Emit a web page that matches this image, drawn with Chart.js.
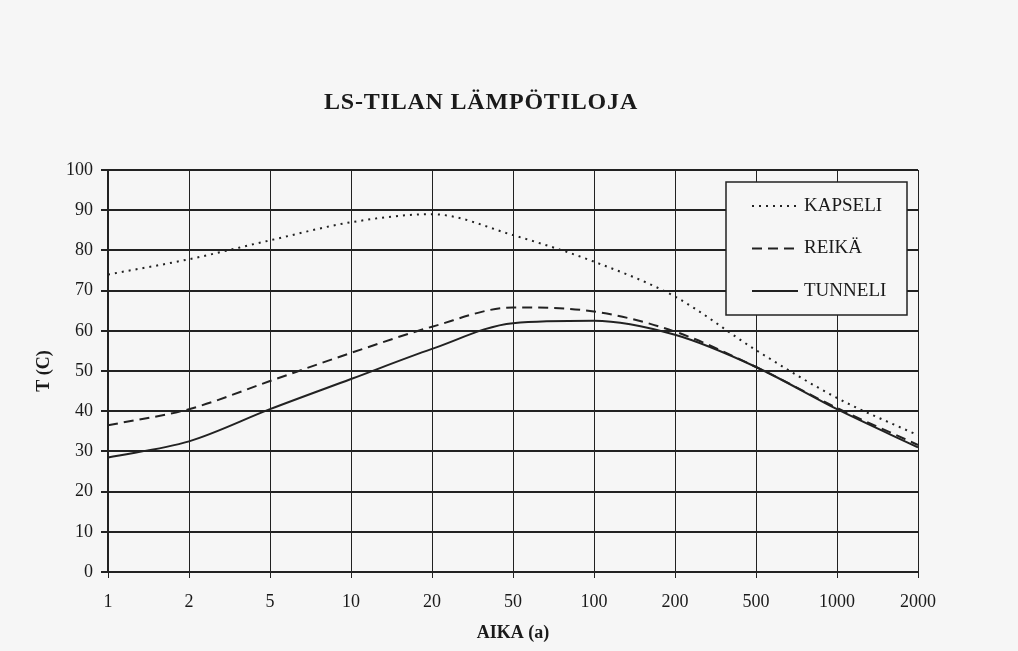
<!DOCTYPE html>
<html>
<head>
<meta charset="utf-8">
<script src="https://cdn.jsdelivr.net/npm/chart.js@4"></script>
<style>
  html, body { margin: 0; padding: 0; background: #f6f6f6; }
  #wrap { width: 1018px; height: 651px; }
</style>
</head>
<body>
<div id="wrap"><canvas id="tempChart" width="1018" height="651"></canvas></div>
<script>
const years = ['1', '2', '5', '10', '20', '50', '100', '200', '500', '1000', '2000'];
const kapseli = [74, 77.8, 82.5, 87, 89, 83.8, 77.2, 68.5, 55.2, 43.3, 34];
const reika = [36.5, 40.5, 47.5, 54.5, 61, 65.8, 64.8, 59.8, 51, 40.8, 31.6];
const tunneli = [28.5, 32.5, 40.5, 48, 55.5, 61.9, 62.5, 59, 51, 40.5, 31];
const yTicks = [0, 10, 20, 30, 40, 50, 60, 70, 80, 90, 100];

const serif = '"Liberation Serif", "DejaVu Serif", serif';
const ink = '#222222';

// title + legend box inside the plot, like the scanned original
const paperDecor = {
    id: 'paperDecor',
    afterDraw(chart) {
        const ctx = chart.ctx;
        const area = chart.chartArea;
        ctx.save();
        ctx.fillStyle = '#1a1a1a';
        ctx.font = 'bold 24px ' + serif;
        ctx.letterSpacing = '0.8px';
        ctx.textAlign = 'center';
        ctx.textBaseline = 'middle';
        ctx.fillText('LS-TILAN LÄMPÖTILOJA', 481, 103);
        ctx.letterSpacing = '0px';

        const bx = area.right - 192, by = area.top + 12, bw = 181, bh = 133;
        ctx.fillStyle = '#f6f6f6';
        ctx.fillRect(bx, by, bw, bh);
        ctx.strokeStyle = ink;
        ctx.lineWidth = 1.5;
        ctx.strokeRect(bx, by, bw, bh);

        chart.data.datasets.forEach((ds, i) => {
            const y = by + 24 + i * 42.5;
            ctx.beginPath();
            ctx.setLineDash(ds.borderDash || []);
            ctx.lineWidth = ds.borderWidth;
            ctx.strokeStyle = ds.borderColor;
            ctx.moveTo(bx + 26, y);
            ctx.lineTo(bx + 72, y);
            ctx.stroke();
            ctx.setLineDash([]);
            ctx.fillStyle = '#1a1a1a';
            ctx.font = '19px ' + serif;
            ctx.textAlign = 'left';
            ctx.fillText(ds.label, bx + 78, y);
        });
        ctx.restore();
    }
};

new Chart(document.getElementById('tempChart').getContext('2d'), {
    type: 'line',
    data: {
        labels: years,
        datasets: [
            { label: 'KAPSELI', data: kapseli, borderColor: ink, borderWidth: 2, borderDash: [2, 5] },
            { label: 'REIKÄ', data: reika, borderColor: ink, borderWidth: 2, borderDash: [10, 6] },
            { label: 'TUNNELI', data: tunneli, borderColor: ink, borderWidth: 2 }
        ]
    },
    options: {
        responsive: false,
        animation: false,
        layout: { padding: { left: 30, right: 100, top: 170, bottom: 0 } },
        elements: {
            point: { radius: 0 },
            line: { cubicInterpolationMode: 'monotone', fill: false }
        },
        plugins: {
            legend: { display: false },
            tooltip: { enabled: false }
        },
        scales: {
            x: {
                offset: false,
                grid: { color: ink, lineWidth: 1, tickLength: 6, drawTicks: true },
                border: { color: ink, width: 2 },
                ticks: { color: '#1a1a1a', font: { family: serif, size: 18 }, padding: 13, maxRotation: 0, autoSkip: false },
                title: { display: true, text: 'AIKA (a)', color: '#1a1a1a', font: { family: serif, size: 18, weight: 'bold' }, padding: { top: 0, bottom: 7 } },
                afterFit(scale) { scale.height = 79; }
            },
            y: {
                min: 0,
                max: 100,
                afterBuildTicks(scale) { scale.ticks = yTicks.map(v => ({ value: v })); },
                grid: { color: ink, lineWidth: 2, tickLength: 7 },
                border: { color: ink, width: 2 },
                ticks: { color: '#1a1a1a', font: { family: serif, size: 18 }, padding: 8 },
                title: { display: true, text: 'T (C)', color: '#1a1a1a', font: { family: serif, size: 18, weight: 'bold' }, padding: { top: 4, bottom: 0 } },
                afterFit(scale) { scale.width = 78; }
            }
        }
    },
    plugins: [paperDecor]
});
</script>
</body>
</html>
